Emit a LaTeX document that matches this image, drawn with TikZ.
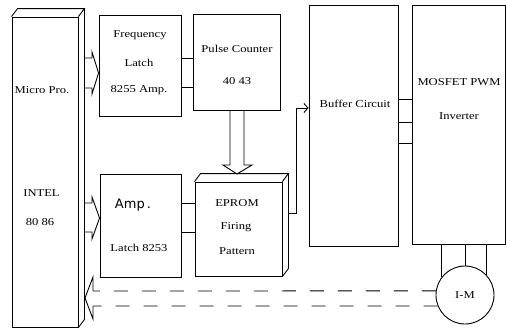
\documentclass[tikz,border=0pt]{standalone}
\usepackage{fontspec}
\setmainfont{Liberation Serif}[FakeStretch=1.2]
\newfontfamily\ampfont{DejaVu Sans}
\usetikzlibrary{arrows.meta,calc}
\begin{document}
\begin{tikzpicture}[x=1pt,y=-1pt,line width=0.9pt,line join=miter,
  box/.style={draw,inner sep=0pt},
  lbl/.style={inner sep=0pt,font=\fontsize{10.5}{12}\selectfont},
  dashline/.style={dash pattern=on 14pt off 14pt}]
\useasboundingbox (0,0) rectangle (507,330);
% boxes
\node[box,minimum width=66pt,minimum height=310pt] (micro) at (45,172) {};
\node[box,minimum width=82pt,minimum height=101pt] (freq) at (140,65.5) {};
\node[box,minimum width=87pt,minimum height=96pt] (pulse) at (236.5,62) {};
\node[box,minimum width=81pt,minimum height=103pt] (amp) at (140.5,225.5) {};
\node[box,minimum width=87pt,minimum height=94pt] (eprom) at (238.5,229) {};
\node[box,minimum width=89pt,minimum height=241pt] (buffer) at (353.5,125.5) {};
\node[box,minimum width=93pt,minimum height=239pt] (mosfet) at (458.5,124.5) {};
\node[draw,circle,minimum size=58pt,inner sep=0pt] (motor) at (465,295) {};
% 3D faces
\draw (micro.north west) -- ++(6pt,8pt) -- ([shift={(6pt,8pt)}]micro.north east) -- (micro.north east);
\draw ([shift={(6pt,8pt)}]micro.north east) -- ([shift={(6pt,8pt)}]micro.south east) -- (micro.south east);
\draw (eprom.north west) -- ++(6pt,8pt) -- ([shift={(6pt,8pt)}]eprom.north east) -- (eprom.north east);
\draw ([shift={(6pt,8pt)}]eprom.north east) -- ([shift={(6pt,8pt)}]eprom.south east) -- (eprom.south east);
% texts
\node[lbl] (t1) at (42,90) {Micro Pro.};
\node[lbl] (t2) at (41.5,193) {INTEL};
\node[lbl] (t3) at (40,222) {80 86};
\node[lbl] (t4) at (140,35) {Frequency};
\node[lbl] (t5) at (139,63) {Latch};
\node[lbl] (t6) at (139,90) {8255 Amp.};
\node[lbl] (t7) at (237,49) {Pulse Counter};
\node[lbl] (t8) at (237,81) {40 43};
\node[inner sep=0pt,font=\ampfont\fontsize{13}{15}\selectfont] (t9) at (133,205) {Amp\,.};
\node[lbl] (t10) at (139,248) {Latch 8253};
\node[lbl] (t11) at (237,203) {EPROM};
\node[lbl] (t12) at (236,227) {Firing};
\node[lbl] (t13) at (237,251) {Pattern};
\node[lbl] (t14) at (355,104) {Buffer Circuit};
\node[lbl] (t15) at (459,82) {MOSFET PWM};
\node[lbl] (t16) at (459,116) {Inverter};
\node[lbl] (t17) at (motor) {I-M};
% hollow arrows from micro
\draw (84,58) -- (92,58) -- (92,52) -- (freq.west |- 0,73) -- (92,94) -- (92,88) -- (84,88);
\draw (84,203) -- (92,203) -- (92,197) -- (amp.west |- 0,218) -- (92,239) -- (92,232) -- (84,232);
% freq -> pulse, amp -> eprom
\draw (freq.east |- 0,58) -- (pulse.west |- 0,58);
\draw (freq.east |- 0,87) -- (pulse.west |- 0,87);
\draw (amp.east |- 0,203) -- (eprom.west |- 0,203);
\draw (amp.east |- 0,232) -- (eprom.west |- 0,232);
% pulse -> eprom hollow arrow
\draw (pulse.south -| 230,0) -- (230,165) -- (223,165) -- (237,174) -- (252,165) -- (244,165) -- (pulse.south -| 244,0);
% eprom -> buffer
\draw[-{Straight Barb[length=4pt,width=9pt]}] (288,213) -- (296,213) -- (296,108) -- (buffer.west |- 0,108);
% buffer -> mosfet
\draw (buffer.east |- 0,99) -- (mosfet.west |- 0,99);
\draw (buffer.east |- 0,122) -- (mosfet.west |- 0,122);
\draw (buffer.east |- 0,143) -- (mosfet.west |- 0,143);
% mosfet -> motor
\draw (motor.142.5 |- mosfet.south) -- (motor.142.5);
\draw (motor.north |- mosfet.south) -- (motor.north);
\draw (motor.43.6 |- mosfet.south) -- (motor.43.6);
% dashed feedback arrow
\draw[dashline] (motor.172) -- (93,291);
\draw[dashline] (motor.202) -- (93,306);
\draw (93,291) -- (93,277) -- (85,298) -- (93,319) -- (93,306);
\end{tikzpicture}
\end{document}
